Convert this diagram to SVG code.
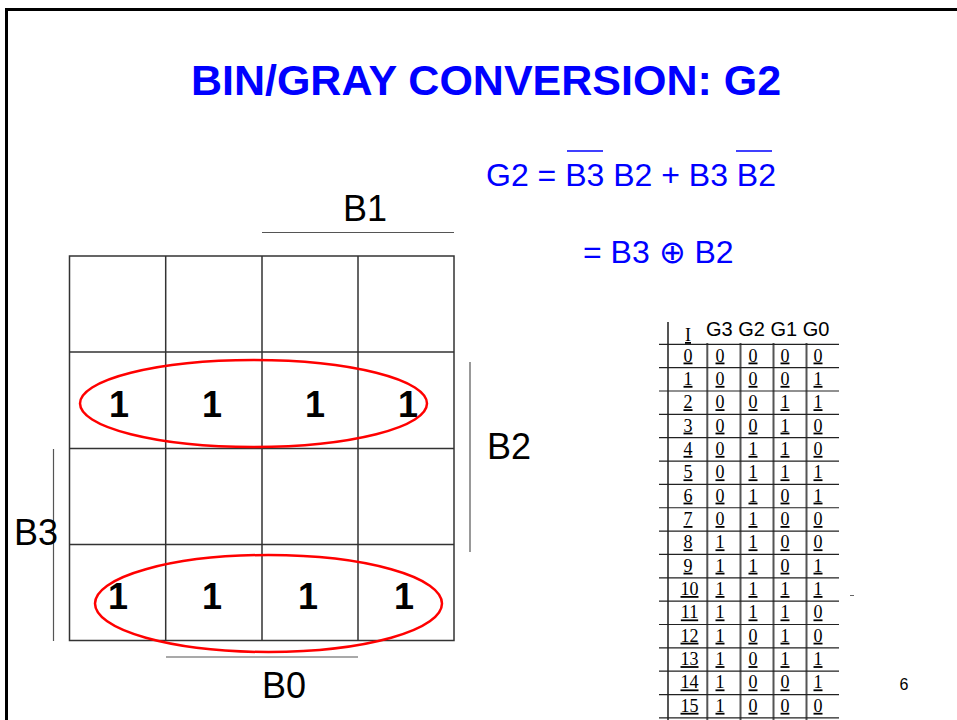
<svg xmlns="http://www.w3.org/2000/svg" width="957" height="720" viewBox="0 0 957 720">
  <style>
    .title { font-family: "Liberation Sans", Arial, sans-serif; font-weight: bold; font-size: 43px; fill: #0000ff; }
    .eq { font-family: "Liberation Sans", Arial, "DejaVu Sans", sans-serif; font-size: 32px; fill: #0000ff; }
    .lbl { font-family: "Liberation Sans", Arial, sans-serif; font-size: 36px; fill: #000; }
    .one { font-family: "Liberation Sans", Arial, sans-serif; font-weight: bold; font-size: 36px; fill: #000; text-anchor: middle; }
    .grid { fill: none; stroke: #333; stroke-width: 1.5; }
    .bar { stroke: #555; stroke-width: 1.2; }
    .loop { fill: none; stroke: #ff0000; stroke-width: 2.5; }
    .th { font-family: "Liberation Sans", Arial, sans-serif; font-size: 20px; fill: #000; }
    .td { font-family: "Liberation Serif", "Times New Roman", serif; font-size: 18px; fill: #000; text-anchor: middle; text-decoration: underline; }
    .hl { stroke: #222; stroke-width: 1.2; }
    .vl { stroke: #555; stroke-width: 2; }
    .pg { font-family: "Liberation Sans", Arial, sans-serif; font-size: 16px; fill: #000; }
  </style>

  <rect width="957" height="720" fill="#fff"/>
  <!-- slide frame (top and left edges) -->
  <path d="M6.5 720 V9.5 H957" fill="none" stroke="#000" stroke-width="3"/>

  <text class="title" x="486" y="95" text-anchor="middle">BIN/GRAY CONVERSION: G2</text>

  <!-- equations -->
  <g id="equation">
    <text class="eq" x="486" y="186">G2 = B3 B2 + B3 B2</text>
    <line x1="567" y1="151" x2="603" y2="151" stroke="#0000ff" stroke-width="1.3"/>
    <line x1="736" y1="151" x2="772" y2="151" stroke="#0000ff" stroke-width="1.3"/>
    <text class="eq" x="583" y="263">= B3 <tspan font-family="'Noto Sans', 'DejaVu Sans', sans-serif" font-weight="300">⊕</tspan> B2</text>
  </g>

  <!-- Karnaugh map -->
  <g id="kmap">
    <rect class="grid" x="69.5" y="256" width="384.5" height="384.5"/>
    <path class="grid" d="M165.7 256 V640.5 M262 256 V640.5 M358 256 V640.5 M69.5 352 H454 M69.5 448.5 H454 M69.5 544.5 H454"/>
    <text class="one" x="119" y="417">1</text>
    <text class="one" x="212" y="417">1</text>
    <text class="one" x="315" y="417">1</text>
    <text class="one" x="408" y="417">1</text>
    <text class="one" x="118" y="609">1</text>
    <text class="one" x="212" y="609">1</text>
    <text class="one" x="308" y="609">1</text>
    <text class="one" x="404" y="609">1</text>
  </g>

  <!-- variable labels and bars -->
  <g id="labels">
    <line class="bar" x1="262" y1="232.5" x2="454" y2="232.5"/>
    <text class="lbl" x="365" y="221" text-anchor="middle">B1</text>
    <line class="bar" x1="470" y1="362" x2="470" y2="552"/>
    <text class="lbl" x="509" y="459" text-anchor="middle">B2</text>
    <line class="bar" x1="53.5" y1="449" x2="53.5" y2="641"/>
    <text class="lbl" x="14" y="545">B3</text>
    <line class="bar" x1="166" y1="657" x2="358" y2="657"/>
    <text class="lbl" x="284" y="698" text-anchor="middle">B0</text>
  </g>

  <!-- groupings -->
  <g id="loops">
    <ellipse class="loop" cx="253.5" cy="403.5" rx="173.5" ry="43.5"/>
    <ellipse class="loop" cx="268.5" cy="603.5" rx="173.5" ry="48.5"/>
  </g>

  <!-- conversion table -->
  <g id="table">
    <path class="vl" d="M668 322 V720 M707.3 343 V720 M740.5 343 V720 M773.5 343 V720 M806.5 343 V720"/>
    <path class="hl" d="M659 344.3 H839 M659 367.65 H839 M659 391 H839 M659 414.35 H839 M659 437.7 H839 M659 461.05 H839 M659 484.4 H839 M659 507.75 H839 M659 531.1 H839 M659 554.45 H839 M659 577.8 H839 M659 601.15 H839 M659 624.5 H839 M659 647.85 H839 M659 671.2 H839 M659 694.55 H839 M659 717.9 H839"/>
    <text class="td" x="688" y="341">I</text>
    <text class="th" x="706" y="336">G3 G2 G1 G0</text>

    <g id="r0"><text class="td" x="688" y="361.5">0</text><text class="td" x="720" y="361.5">0</text><text class="td" x="753" y="361.5">0</text><text class="td" x="785" y="361.5">0</text><text class="td" x="818" y="361.5">0</text></g>
    <g id="r1"><text class="td" x="688" y="384.9">1</text><text class="td" x="720" y="384.9">0</text><text class="td" x="753" y="384.9">0</text><text class="td" x="785" y="384.9">0</text><text class="td" x="818" y="384.9">1</text></g>
    <g id="r2"><text class="td" x="688" y="408.2">2</text><text class="td" x="720" y="408.2">0</text><text class="td" x="753" y="408.2">0</text><text class="td" x="785" y="408.2">1</text><text class="td" x="818" y="408.2">1</text></g>
    <g id="r3"><text class="td" x="688" y="431.6">3</text><text class="td" x="720" y="431.6">0</text><text class="td" x="753" y="431.6">0</text><text class="td" x="785" y="431.6">1</text><text class="td" x="818" y="431.6">0</text></g>
    <g id="r4"><text class="td" x="688" y="454.9">4</text><text class="td" x="720" y="454.9">0</text><text class="td" x="753" y="454.9">1</text><text class="td" x="785" y="454.9">1</text><text class="td" x="818" y="454.9">0</text></g>
    <g id="r5"><text class="td" x="688" y="478.3">5</text><text class="td" x="720" y="478.3">0</text><text class="td" x="753" y="478.3">1</text><text class="td" x="785" y="478.3">1</text><text class="td" x="818" y="478.3">1</text></g>
    <g id="r6"><text class="td" x="688" y="501.6">6</text><text class="td" x="720" y="501.6">0</text><text class="td" x="753" y="501.6">1</text><text class="td" x="785" y="501.6">0</text><text class="td" x="818" y="501.6">1</text></g>
    <g id="r7"><text class="td" x="688" y="525">7</text><text class="td" x="720" y="525">0</text><text class="td" x="753" y="525">1</text><text class="td" x="785" y="525">0</text><text class="td" x="818" y="525">0</text></g>
    <g id="r8"><text class="td" x="688" y="548.3">8</text><text class="td" x="720" y="548.3">1</text><text class="td" x="753" y="548.3">1</text><text class="td" x="785" y="548.3">0</text><text class="td" x="818" y="548.3">0</text></g>
    <g id="r9"><text class="td" x="688" y="571.7">9</text><text class="td" x="720" y="571.7">1</text><text class="td" x="753" y="571.7">1</text><text class="td" x="785" y="571.7">0</text><text class="td" x="818" y="571.7">1</text></g>
    <g id="r10"><text class="td" x="689.5" y="595">10</text><text class="td" x="720" y="595">1</text><text class="td" x="753" y="595">1</text><text class="td" x="785" y="595">1</text><text class="td" x="818" y="595">1</text></g>
    <g id="r11"><text class="td" x="689.5" y="618.4">11</text><text class="td" x="720" y="618.4">1</text><text class="td" x="753" y="618.4">1</text><text class="td" x="785" y="618.4">1</text><text class="td" x="818" y="618.4">0</text></g>
    <g id="r12"><text class="td" x="689.5" y="641.7">12</text><text class="td" x="720" y="641.7">1</text><text class="td" x="753" y="641.7">0</text><text class="td" x="785" y="641.7">1</text><text class="td" x="818" y="641.7">0</text></g>
    <g id="r13"><text class="td" x="689.5" y="665.1">13</text><text class="td" x="720" y="665.1">1</text><text class="td" x="753" y="665.1">0</text><text class="td" x="785" y="665.1">1</text><text class="td" x="818" y="665.1">1</text></g>
    <g id="r14"><text class="td" x="689.5" y="688.4">14</text><text class="td" x="720" y="688.4">1</text><text class="td" x="753" y="688.4">0</text><text class="td" x="785" y="688.4">0</text><text class="td" x="818" y="688.4">1</text></g>
    <g id="r15"><text class="td" x="689.5" y="711.8">15</text><text class="td" x="720" y="711.8">1</text><text class="td" x="753" y="711.8">0</text><text class="td" x="785" y="711.8">0</text><text class="td" x="818" y="711.8">0</text></g>

    <line x1="850" y1="595.5" x2="854" y2="595.5" stroke="#666" stroke-width="1"/>
  </g>

  <text class="pg" x="904" y="690" text-anchor="middle">6</text>
</svg>
